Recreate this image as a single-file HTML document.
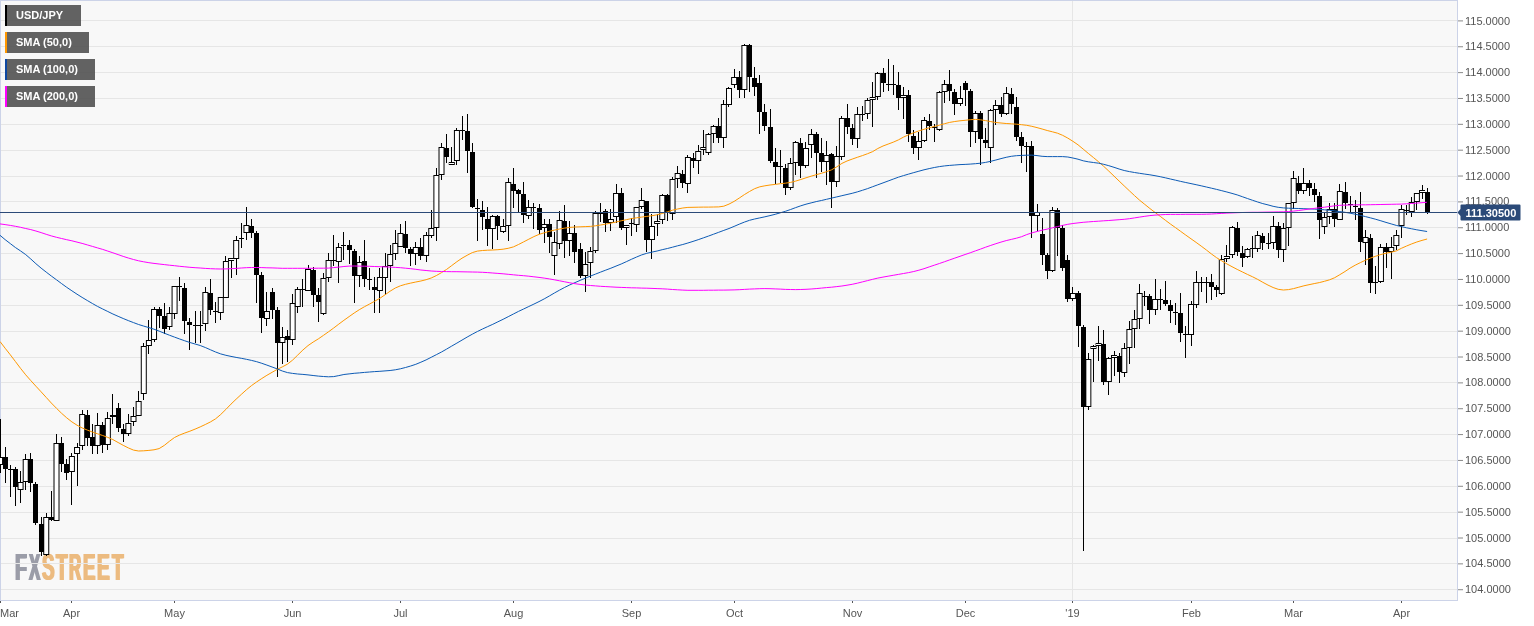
<!DOCTYPE html>
<html lang="en"><head><meta charset="utf-8"><title>USD/JPY</title>
<style>
html,body{margin:0;padding:0;background:#fff;}
body{width:1534px;height:626px;overflow:hidden;position:relative;font-family:"Liberation Sans",Arial,sans-serif;}
svg{position:absolute;left:0;top:0;display:block}
.ax{font-size:11px;fill:#555;}
.lg{font-size:11px;font-weight:bold;fill:#fff;}
#bg{position:absolute;left:0;top:0;width:1458px;height:601px;background:#f8f8f8;}
#wm span{position:absolute;font-weight:bold;font-size:36.8px;line-height:1;transform-origin:0 0;white-space:pre;}
</style></head><body>
<div id="bg"></div>
<div id="wm"><span style="left:14.98px;top:550.35px;transform:scaleX(0.5326);color:#9b9da8;text-shadow:1.41px 0 0 #9b9da8,-1.41px 0 0 #9b9da8">F</span><span style="left:28.88px;top:550.35px;transform:scaleX(0.4586);color:#9b9da8;text-shadow:1.64px 0 0 #9b9da8,-1.64px 0 0 #9b9da8">X</span><span style="left:41.69px;top:550.35px;transform:scaleX(0.5118);color:#ecbb80;text-shadow:1.47px 0 0 #ecbb80,-1.47px 0 0 #ecbb80">S</span><span style="left:55.76px;top:550.35px;transform:scaleX(0.5158);color:#ecbb80;text-shadow:1.45px 0 0 #ecbb80,-1.45px 0 0 #ecbb80">T</span><span style="left:68.96px;top:550.35px;transform:scaleX(0.4615);color:#ecbb80;text-shadow:1.63px 0 0 #ecbb80,-1.63px 0 0 #ecbb80">R</span><span style="left:83.35px;top:550.35px;transform:scaleX(0.5047);color:#ecbb80;text-shadow:1.49px 0 0 #ecbb80,-1.49px 0 0 #ecbb80">E</span><span style="left:97.21px;top:550.35px;transform:scaleX(0.5192);color:#ecbb80;text-shadow:1.44px 0 0 #ecbb80,-1.44px 0 0 #ecbb80">E</span><span style="left:112.46px;top:550.35px;transform:scaleX(0.5158);color:#ecbb80;text-shadow:1.45px 0 0 #ecbb80,-1.45px 0 0 #ecbb80">T</span></div>
<svg width="1534" height="626" viewBox="0 0 1534 626">
<g fill="#e6e6e6" shape-rendering="crispEdges"><rect x="1" y="20" width="1456" height="1"/><rect x="1" y="46" width="1456" height="1"/><rect x="1" y="72" width="1456" height="1"/><rect x="1" y="98" width="1456" height="1"/><rect x="1" y="124" width="1456" height="1"/><rect x="1" y="150" width="1456" height="1"/><rect x="1" y="176" width="1456" height="1"/><rect x="1" y="201" width="1456" height="1"/><rect x="1" y="227" width="1456" height="1"/><rect x="1" y="253" width="1456" height="1"/><rect x="1" y="279" width="1456" height="1"/><rect x="1" y="305" width="1456" height="1"/><rect x="1" y="331" width="1456" height="1"/><rect x="1" y="357" width="1456" height="1"/><rect x="1" y="382" width="1456" height="1"/><rect x="1" y="408" width="1456" height="1"/><rect x="1" y="434" width="1456" height="1"/><rect x="1" y="460" width="1456" height="1"/><rect x="1" y="486" width="1456" height="1"/><rect x="1" y="512" width="1456" height="1"/><rect x="1" y="538" width="1456" height="1"/><rect x="1" y="563" width="1456" height="1"/><rect x="1" y="589" width="1456" height="1"/><rect x="1072" y="1" width="1" height="599"/></g>
<g fill="#ccd3e8" shape-rendering="crispEdges"><rect x="0" y="0" width="1458" height="1"/><rect x="0" y="0" width="1" height="601"/><rect x="1457" y="0" width="1" height="601"/><rect x="0" y="600" width="1458" height="1"/></g>
<g fill="#000" shape-rendering="crispEdges"><rect x="0" y="419" width="1" height="54"/><rect x="5" y="447" width="1" height="36"/><rect x="10" y="465" width="1" height="32"/><rect x="15" y="467" width="1" height="39"/><rect x="20" y="471" width="1" height="32"/><rect x="25" y="454" width="1" height="36"/><rect x="30" y="453" width="1" height="39"/><rect x="35" y="482" width="1" height="43"/><rect x="41" y="517" width="1" height="39"/><rect x="46" y="513" width="1" height="43"/><rect x="51" y="491" width="1" height="30"/><rect x="56" y="434" width="1" height="87"/><rect x="61" y="437" width="1" height="35"/><rect x="66" y="459" width="1" height="21"/><rect x="71" y="453" width="1" height="52"/><rect x="77" y="443" width="1" height="43"/><rect x="82" y="410" width="1" height="40"/><rect x="87" y="410" width="1" height="36"/><rect x="92" y="424" width="1" height="30"/><rect x="97" y="413" width="1" height="41"/><rect x="102" y="422" width="1" height="31"/><rect x="107" y="412" width="1" height="38"/><rect x="112" y="394" width="1" height="30"/><rect x="118" y="403" width="1" height="29"/><rect x="123" y="424" width="1" height="18"/><rect x="128" y="414" width="1" height="22"/><rect x="133" y="407" width="1" height="19"/><rect x="138" y="391" width="1" height="25"/><rect x="143" y="343" width="1" height="57"/><rect x="148" y="320" width="1" height="34"/><rect x="154" y="307" width="1" height="35"/><rect x="159" y="307" width="1" height="21"/><rect x="164" y="303" width="1" height="31"/><rect x="169" y="307" width="1" height="23"/><rect x="174" y="286" width="1" height="33"/><rect x="179" y="277" width="1" height="24"/><rect x="184" y="283" width="1" height="51"/><rect x="189" y="318" width="1" height="32"/><rect x="195" y="311" width="1" height="32"/><rect x="200" y="311" width="1" height="32"/><rect x="205" y="287" width="1" height="44"/><rect x="210" y="279" width="1" height="36"/><rect x="215" y="302" width="1" height="21"/><rect x="220" y="297" width="1" height="23"/><rect x="225" y="256" width="1" height="42"/><rect x="231" y="258" width="1" height="20"/><rect x="236" y="236" width="1" height="39"/><rect x="241" y="223" width="1" height="25"/><rect x="246" y="207" width="1" height="33"/><rect x="251" y="219" width="1" height="19"/><rect x="256" y="231" width="1" height="72"/><rect x="261" y="272" width="1" height="61"/><rect x="266" y="292" width="1" height="34"/><rect x="272" y="288" width="1" height="31"/><rect x="277" y="307" width="1" height="70"/><rect x="282" y="327" width="1" height="37"/><rect x="287" y="330" width="1" height="32"/><rect x="292" y="294" width="1" height="51"/><rect x="297" y="287" width="1" height="26"/><rect x="302" y="279" width="1" height="28"/><rect x="308" y="265" width="1" height="26"/><rect x="313" y="267" width="1" height="40"/><rect x="318" y="288" width="1" height="34"/><rect x="323" y="273" width="1" height="42"/><rect x="328" y="253" width="1" height="29"/><rect x="333" y="235" width="1" height="31"/><rect x="338" y="243" width="1" height="40"/><rect x="343" y="232" width="1" height="28"/><rect x="349" y="240" width="1" height="24"/><rect x="354" y="249" width="1" height="54"/><rect x="359" y="256" width="1" height="31"/><rect x="364" y="240" width="1" height="47"/><rect x="369" y="268" width="1" height="22"/><rect x="374" y="277" width="1" height="36"/><rect x="379" y="268" width="1" height="45"/><rect x="385" y="253" width="1" height="42"/><rect x="390" y="245" width="1" height="37"/><rect x="395" y="230" width="1" height="30"/><rect x="400" y="224" width="1" height="23"/><rect x="405" y="221" width="1" height="32"/><rect x="410" y="247" width="1" height="19"/><rect x="415" y="242" width="1" height="23"/><rect x="420" y="238" width="1" height="22"/><rect x="426" y="232" width="1" height="30"/><rect x="431" y="210" width="1" height="28"/><rect x="436" y="168" width="1" height="73"/><rect x="441" y="143" width="1" height="37"/><rect x="446" y="134" width="1" height="29"/><rect x="451" y="147" width="1" height="18"/><rect x="456" y="128" width="1" height="37"/><rect x="462" y="116" width="1" height="24"/><rect x="467" y="114" width="1" height="59"/><rect x="472" y="143" width="1" height="65"/><rect x="477" y="199" width="1" height="42"/><rect x="482" y="201" width="1" height="29"/><rect x="487" y="207" width="1" height="39"/><rect x="492" y="215" width="1" height="34"/><rect x="497" y="215" width="1" height="25"/><rect x="503" y="219" width="1" height="14"/><rect x="508" y="178" width="1" height="63"/><rect x="513" y="168" width="1" height="40"/><rect x="518" y="189" width="1" height="23"/><rect x="523" y="182" width="1" height="41"/><rect x="528" y="200" width="1" height="19"/><rect x="533" y="203" width="1" height="26"/><rect x="539" y="204" width="1" height="30"/><rect x="544" y="219" width="1" height="24"/><rect x="549" y="219" width="1" height="34"/><rect x="554" y="232" width="1" height="43"/><rect x="559" y="211" width="1" height="38"/><rect x="564" y="205" width="1" height="53"/><rect x="569" y="221" width="1" height="35"/><rect x="574" y="225" width="1" height="38"/><rect x="580" y="243" width="1" height="35"/><rect x="585" y="252" width="1" height="40"/><rect x="590" y="247" width="1" height="31"/><rect x="595" y="211" width="1" height="42"/><rect x="600" y="203" width="1" height="19"/><rect x="605" y="209" width="1" height="23"/><rect x="610" y="209" width="1" height="22"/><rect x="616" y="184" width="1" height="39"/><rect x="621" y="188" width="1" height="42"/><rect x="626" y="225" width="1" height="20"/><rect x="631" y="218" width="1" height="18"/><rect x="636" y="207" width="1" height="25"/><rect x="641" y="188" width="1" height="21"/><rect x="646" y="201" width="1" height="51"/><rect x="651" y="214" width="1" height="45"/><rect x="657" y="214" width="1" height="22"/><rect x="662" y="194" width="1" height="30"/><rect x="667" y="194" width="1" height="27"/><rect x="672" y="177" width="1" height="43"/><rect x="677" y="166" width="1" height="22"/><rect x="682" y="170" width="1" height="18"/><rect x="687" y="155" width="1" height="38"/><rect x="693" y="153" width="1" height="15"/><rect x="698" y="145" width="1" height="29"/><rect x="703" y="130" width="1" height="25"/><rect x="708" y="133" width="1" height="22"/><rect x="713" y="125" width="1" height="18"/><rect x="718" y="118" width="1" height="25"/><rect x="723" y="100" width="1" height="48"/><rect x="728" y="87" width="1" height="20"/><rect x="734" y="69" width="1" height="19"/><rect x="739" y="71" width="1" height="27"/><rect x="744" y="44" width="1" height="54"/><rect x="749" y="44" width="1" height="48"/><rect x="754" y="67" width="1" height="29"/><rect x="759" y="75" width="1" height="59"/><rect x="764" y="104" width="1" height="27"/><rect x="770" y="109" width="1" height="54"/><rect x="775" y="148" width="1" height="36"/><rect x="780" y="150" width="1" height="33"/><rect x="785" y="164" width="1" height="31"/><rect x="790" y="158" width="1" height="32"/><rect x="795" y="141" width="1" height="34"/><rect x="800" y="138" width="1" height="40"/><rect x="805" y="142" width="1" height="26"/><rect x="811" y="129" width="1" height="29"/><rect x="816" y="132" width="1" height="46"/><rect x="821" y="138" width="1" height="34"/><rect x="826" y="141" width="1" height="44"/><rect x="831" y="153" width="1" height="55"/><rect x="836" y="146" width="1" height="41"/><rect x="841" y="116" width="1" height="44"/><rect x="847" y="104" width="1" height="30"/><rect x="852" y="124" width="1" height="21"/><rect x="857" y="107" width="1" height="41"/><rect x="862" y="106" width="1" height="15"/><rect x="867" y="98" width="1" height="21"/><rect x="872" y="82" width="1" height="45"/><rect x="877" y="72" width="1" height="28"/><rect x="883" y="68" width="1" height="24"/><rect x="888" y="59" width="1" height="32"/><rect x="893" y="65" width="1" height="30"/><rect x="898" y="72" width="1" height="38"/><rect x="903" y="87" width="1" height="32"/><rect x="908" y="90" width="1" height="52"/><rect x="913" y="130" width="1" height="24"/><rect x="918" y="132" width="1" height="28"/><rect x="924" y="117" width="1" height="25"/><rect x="929" y="114" width="1" height="16"/><rect x="934" y="124" width="1" height="18"/><rect x="939" y="91" width="1" height="40"/><rect x="944" y="80" width="1" height="23"/><rect x="949" y="70" width="1" height="31"/><rect x="954" y="89" width="1" height="26"/><rect x="960" y="86" width="1" height="20"/><rect x="965" y="81" width="1" height="25"/><rect x="970" y="89" width="1" height="58"/><rect x="975" y="111" width="1" height="32"/><rect x="980" y="111" width="1" height="54"/><rect x="985" y="128" width="1" height="20"/><rect x="990" y="109" width="1" height="54"/><rect x="995" y="100" width="1" height="25"/><rect x="1001" y="97" width="1" height="20"/><rect x="1006" y="87" width="1" height="28"/><rect x="1011" y="88" width="1" height="26"/><rect x="1016" y="97" width="1" height="44"/><rect x="1021" y="132" width="1" height="31"/><rect x="1026" y="142" width="1" height="30"/><rect x="1031" y="141" width="1" height="97"/><rect x="1037" y="204" width="1" height="27"/><rect x="1042" y="218" width="1" height="47"/><rect x="1047" y="253" width="1" height="26"/><rect x="1052" y="207" width="1" height="65"/><rect x="1057" y="208" width="1" height="48"/><rect x="1062" y="225" width="1" height="46"/><rect x="1067" y="255" width="1" height="47"/><rect x="1072" y="287" width="1" height="14"/><rect x="1078" y="291" width="1" height="56"/><rect x="1083" y="325" width="1" height="226"/><rect x="1088" y="353" width="1" height="57"/><rect x="1093" y="345" width="1" height="37"/><rect x="1098" y="326" width="1" height="35"/><rect x="1103" y="330" width="1" height="55"/><rect x="1108" y="357" width="1" height="38"/><rect x="1114" y="351" width="1" height="25"/><rect x="1119" y="353" width="1" height="30"/><rect x="1124" y="343" width="1" height="34"/><rect x="1129" y="321" width="1" height="43"/><rect x="1134" y="310" width="1" height="38"/><rect x="1139" y="284" width="1" height="45"/><rect x="1144" y="291" width="1" height="15"/><rect x="1149" y="294" width="1" height="30"/><rect x="1155" y="279" width="1" height="36"/><rect x="1160" y="289" width="1" height="21"/><rect x="1165" y="281" width="1" height="25"/><rect x="1170" y="300" width="1" height="23"/><rect x="1175" y="303" width="1" height="22"/><rect x="1180" y="293" width="1" height="49"/><rect x="1185" y="326" width="1" height="32"/><rect x="1191" y="301" width="1" height="45"/><rect x="1196" y="271" width="1" height="37"/><rect x="1201" y="277" width="1" height="15"/><rect x="1206" y="277" width="1" height="26"/><rect x="1211" y="274" width="1" height="26"/><rect x="1216" y="285" width="1" height="12"/><rect x="1221" y="255" width="1" height="40"/><rect x="1226" y="245" width="1" height="17"/><rect x="1232" y="226" width="1" height="32"/><rect x="1237" y="222" width="1" height="34"/><rect x="1242" y="246" width="1" height="21"/><rect x="1247" y="248" width="1" height="10"/><rect x="1252" y="236" width="1" height="22"/><rect x="1257" y="231" width="1" height="21"/><rect x="1262" y="233" width="1" height="17"/><rect x="1268" y="233" width="1" height="16"/><rect x="1273" y="216" width="1" height="33"/><rect x="1278" y="222" width="1" height="36"/><rect x="1283" y="223" width="1" height="39"/><rect x="1288" y="203" width="1" height="43"/><rect x="1293" y="171" width="1" height="38"/><rect x="1298" y="176" width="1" height="18"/><rect x="1303" y="168" width="1" height="26"/><rect x="1309" y="180" width="1" height="16"/><rect x="1314" y="183" width="1" height="19"/><rect x="1319" y="192" width="1" height="47"/><rect x="1324" y="212" width="1" height="22"/><rect x="1329" y="203" width="1" height="21"/><rect x="1334" y="203" width="1" height="24"/><rect x="1339" y="184" width="1" height="36"/><rect x="1345" y="182" width="1" height="27"/><rect x="1350" y="196" width="1" height="16"/><rect x="1355" y="200" width="1" height="20"/><rect x="1360" y="192" width="1" height="60"/><rect x="1365" y="230" width="1" height="35"/><rect x="1370" y="234" width="1" height="59"/><rect x="1375" y="266" width="1" height="28"/><rect x="1380" y="244" width="1" height="39"/><rect x="1386" y="243" width="1" height="25"/><rect x="1391" y="237" width="1" height="42"/><rect x="1396" y="230" width="1" height="20"/><rect x="1401" y="205" width="1" height="33"/><rect x="1406" y="205" width="1" height="10"/><rect x="1411" y="197" width="1" height="20"/><rect x="1416" y="193" width="1" height="17"/><rect x="1422" y="185" width="1" height="14"/><rect x="1427" y="188" width="1" height="26"/></g>
<g fill="#fff" stroke="#000" stroke-width="1"><rect x="-2.46" y="457.5" width="5" height="7"/><rect x="18.07" y="482.5" width="5" height="7"/><rect x="23.21" y="459.5" width="5" height="22"/><rect x="43.74" y="517.5" width="5" height="37"/><rect x="54.01" y="443.5" width="5" height="77"/><rect x="69.41" y="456.5" width="5" height="15"/><rect x="74.54" y="447.5" width="5" height="6"/><rect x="79.68" y="414.5" width="5" height="31"/><rect x="95.08" y="425.5" width="5" height="20"/><rect x="105.34" y="418.5" width="5" height="26"/><rect x="110.48" y="415.5" width="5" height="1"/><rect x="125.88" y="423.5" width="5" height="10"/><rect x="131.01" y="416.5" width="5" height="5"/><rect x="136.14" y="401.5" width="5" height="14"/><rect x="141.28" y="346.5" width="5" height="47"/><rect x="146.41" y="340.5" width="5" height="5"/><rect x="151.54" y="309.5" width="5" height="30"/><rect x="166.95" y="313.5" width="5" height="13"/><rect x="172.08" y="286.5" width="5" height="27"/><rect x="202.88" y="292.5" width="5" height="31"/><rect x="218.28" y="297.5" width="5" height="15"/><rect x="223.41" y="261.5" width="5" height="36"/><rect x="228.55" y="258.5" width="5" height="2"/><rect x="233.68" y="240.5" width="5" height="18"/><rect x="243.95" y="225.5" width="5" height="7"/><rect x="264.48" y="311.5" width="5" height="7"/><rect x="279.88" y="337.5" width="5" height="5"/><rect x="290.15" y="303.5" width="5" height="36"/><rect x="295.28" y="289.5" width="5" height="17"/><rect x="305.55" y="269.5" width="5" height="21"/><rect x="320.95" y="278.5" width="5" height="35"/><rect x="326.08" y="260.5" width="5" height="17"/><rect x="336.35" y="247.5" width="5" height="14"/><rect x="356.88" y="262.5" width="5" height="13"/><rect x="377.42" y="277.5" width="5" height="13"/><rect x="382.55" y="266.5" width="5" height="11"/><rect x="387.69" y="254.5" width="5" height="11"/><rect x="392.82" y="243.5" width="5" height="10"/><rect x="397.95" y="233.5" width="5" height="13"/><rect x="413.35" y="247.5" width="5" height="6"/><rect x="423.62" y="235.5" width="5" height="20"/><rect x="428.75" y="228.5" width="5" height="7"/><rect x="433.89" y="175.5" width="5" height="52"/><rect x="439.02" y="147.5" width="5" height="27"/><rect x="449.29" y="162.5" width="5" height="2"/><rect x="454.42" y="130.5" width="5" height="30"/><rect x="490.36" y="216.5" width="5" height="12"/><rect x="500.62" y="226.5" width="5" height="5"/><rect x="505.76" y="182.5" width="5" height="43"/><rect x="526.29" y="207.5" width="5" height="8"/><rect x="541.69" y="224.5" width="5" height="3"/><rect x="551.96" y="242.5" width="5" height="13"/><rect x="557.09" y="220.5" width="5" height="23"/><rect x="567.36" y="233.5" width="5" height="7"/><rect x="582.76" y="264.5" width="5" height="11"/><rect x="587.89" y="251.5" width="5" height="11"/><rect x="593.03" y="213.5" width="5" height="37"/><rect x="608.43" y="219.5" width="5" height="3"/><rect x="613.56" y="193.5" width="5" height="23"/><rect x="623.83" y="225.5" width="5" height="2"/><rect x="634.09" y="207.5" width="5" height="17"/><rect x="639.23" y="200.5" width="5" height="6"/><rect x="649.49" y="226.5" width="5" height="13"/><rect x="654.63" y="221.5" width="5" height="2"/><rect x="659.76" y="195.5" width="5" height="24"/><rect x="670.03" y="179.5" width="5" height="34"/><rect x="675.16" y="173.5" width="5" height="5"/><rect x="685.43" y="157.5" width="5" height="26"/><rect x="695.70" y="151.5" width="5" height="9"/><rect x="700.83" y="147.5" width="5" height="2"/><rect x="705.96" y="134.5" width="5" height="18"/><rect x="711.10" y="126.5" width="5" height="7"/><rect x="721.36" y="104.5" width="5" height="33"/><rect x="726.50" y="88.5" width="5" height="16"/><rect x="731.63" y="77.5" width="5" height="7"/><rect x="741.90" y="45.5" width="5" height="44"/><rect x="788.10" y="163.5" width="5" height="24"/><rect x="793.23" y="142.5" width="5" height="20"/><rect x="803.50" y="148.5" width="5" height="17"/><rect x="808.63" y="134.5" width="5" height="10"/><rect x="824.03" y="155.5" width="5" height="6"/><rect x="834.30" y="156.5" width="5" height="25"/><rect x="839.43" y="118.5" width="5" height="38"/><rect x="854.83" y="114.5" width="5" height="24"/><rect x="865.10" y="100.5" width="5" height="13"/><rect x="870.23" y="97.5" width="5" height="2"/><rect x="875.37" y="73.5" width="5" height="23"/><rect x="901.04" y="95.5" width="5" height="2"/><rect x="916.44" y="141.5" width="5" height="6"/><rect x="921.57" y="120.5" width="5" height="20"/><rect x="936.97" y="92.5" width="5" height="37"/><rect x="942.10" y="84.5" width="5" height="7"/><rect x="957.50" y="98.5" width="5" height="5"/><rect x="972.90" y="113.5" width="5" height="18"/><rect x="988.31" y="110.5" width="5" height="37"/><rect x="993.44" y="105.5" width="5" height="4"/><rect x="1003.71" y="93.5" width="5" height="20"/><rect x="1034.51" y="212.5" width="5" height="3"/><rect x="1049.91" y="210.5" width="5" height="60"/><rect x="1070.44" y="293.5" width="5" height="5"/><rect x="1085.84" y="359.5" width="5" height="47"/><rect x="1090.98" y="346.5" width="5" height="2"/><rect x="1096.11" y="343.5" width="5" height="2"/><rect x="1106.38" y="358.5" width="5" height="23"/><rect x="1111.51" y="355.5" width="5" height="2"/><rect x="1121.78" y="348.5" width="5" height="24"/><rect x="1126.91" y="329.5" width="5" height="18"/><rect x="1132.04" y="319.5" width="5" height="9"/><rect x="1137.18" y="293.5" width="5" height="25"/><rect x="1152.58" y="299.5" width="5" height="10"/><rect x="1188.51" y="304.5" width="5" height="30"/><rect x="1193.65" y="282.5" width="5" height="22"/><rect x="1219.31" y="259.5" width="5" height="34"/><rect x="1224.45" y="256.5" width="5" height="2"/><rect x="1229.58" y="227.5" width="5" height="27"/><rect x="1244.98" y="249.5" width="5" height="7"/><rect x="1255.25" y="235.5" width="5" height="13"/><rect x="1270.65" y="226.5" width="5" height="16"/><rect x="1280.91" y="228.5" width="5" height="21"/><rect x="1286.05" y="203.5" width="5" height="24"/><rect x="1291.18" y="178.5" width="5" height="24"/><rect x="1301.45" y="183.5" width="5" height="7"/><rect x="1321.98" y="217.5" width="5" height="9"/><rect x="1327.12" y="209.5" width="5" height="7"/><rect x="1337.38" y="191.5" width="5" height="28"/><rect x="1363.05" y="237.5" width="5" height="5"/><rect x="1378.45" y="247.5" width="5" height="34"/><rect x="1388.72" y="247.5" width="5" height="4"/><rect x="1393.85" y="235.5" width="5" height="10"/><rect x="1398.99" y="209.5" width="5" height="16"/><rect x="1409.25" y="202.5" width="5" height="9"/><rect x="1414.39" y="193.5" width="5" height="8"/><rect x="1419.52" y="190.5" width="5" height="2"/></g>
<g fill="#000" shape-rendering="crispEdges"><rect x="3" y="457" width="5" height="12"/><rect x="8" y="469" width="5" height="1"/><rect x="13" y="469" width="5" height="18"/><rect x="28" y="459" width="5" height="24"/><rect x="33" y="484" width="5" height="39"/><rect x="39" y="524" width="5" height="28"/><rect x="49" y="517" width="5" height="3"/><rect x="59" y="443" width="5" height="21"/><rect x="64" y="464" width="5" height="9"/><rect x="85" y="415" width="5" height="23"/><rect x="90" y="437" width="5" height="9"/><rect x="100" y="425" width="5" height="20"/><rect x="116" y="408" width="5" height="20"/><rect x="121" y="429" width="5" height="5"/><rect x="157" y="309" width="5" height="7"/><rect x="162" y="316" width="5" height="13"/><rect x="177" y="286" width="5" height="1"/><rect x="182" y="288" width="5" height="33"/><rect x="187" y="322" width="5" height="3"/><rect x="193" y="325" width="5" height="1"/><rect x="198" y="325" width="5" height="1"/><rect x="208" y="293" width="5" height="17"/><rect x="213" y="311" width="5" height="1"/><rect x="239" y="238" width="5" height="1"/><rect x="249" y="226" width="5" height="7"/><rect x="254" y="233" width="5" height="42"/><rect x="259" y="275" width="5" height="43"/><rect x="270" y="292" width="5" height="18"/><rect x="275" y="310" width="5" height="33"/><rect x="285" y="336" width="5" height="4"/><rect x="300" y="289" width="5" height="1"/><rect x="311" y="270" width="5" height="25"/><rect x="316" y="295" width="5" height="7"/><rect x="331" y="260" width="5" height="1"/><rect x="341" y="245" width="5" height="1"/><rect x="347" y="245" width="5" height="5"/><rect x="352" y="251" width="5" height="25"/><rect x="362" y="261" width="5" height="18"/><rect x="367" y="279" width="5" height="1"/><rect x="372" y="287" width="5" height="3"/><rect x="403" y="234" width="5" height="14"/><rect x="408" y="249" width="5" height="5"/><rect x="418" y="247" width="5" height="9"/><rect x="444" y="148" width="5" height="9"/><rect x="460" y="130" width="5" height="1"/><rect x="465" y="131" width="5" height="20"/><rect x="470" y="152" width="5" height="55"/><rect x="475" y="208" width="5" height="1"/><rect x="480" y="210" width="5" height="7"/><rect x="485" y="219" width="5" height="10"/><rect x="495" y="216" width="5" height="10"/><rect x="511" y="184" width="5" height="7"/><rect x="516" y="190" width="5" height="4"/><rect x="521" y="194" width="5" height="21"/><rect x="531" y="207" width="5" height="1"/><rect x="537" y="208" width="5" height="22"/><rect x="547" y="224" width="5" height="13"/><rect x="562" y="221" width="5" height="20"/><rect x="572" y="233" width="5" height="19"/><rect x="578" y="249" width="5" height="27"/><rect x="598" y="213" width="5" height="1"/><rect x="603" y="211" width="5" height="12"/><rect x="619" y="193" width="5" height="35"/><rect x="629" y="223" width="5" height="1"/><rect x="644" y="201" width="5" height="39"/><rect x="665" y="195" width="5" height="17"/><rect x="680" y="174" width="5" height="9"/><rect x="691" y="158" width="5" height="3"/><rect x="716" y="126" width="5" height="12"/><rect x="737" y="77" width="5" height="13"/><rect x="747" y="45" width="5" height="32"/><rect x="752" y="78" width="5" height="9"/><rect x="757" y="83" width="5" height="29"/><rect x="762" y="112" width="5" height="14"/><rect x="768" y="127" width="5" height="34"/><rect x="773" y="162" width="5" height="5"/><rect x="778" y="166" width="5" height="1"/><rect x="783" y="168" width="5" height="20"/><rect x="798" y="143" width="5" height="23"/><rect x="814" y="134" width="5" height="19"/><rect x="819" y="153" width="5" height="9"/><rect x="829" y="154" width="5" height="28"/><rect x="845" y="118" width="5" height="9"/><rect x="850" y="128" width="5" height="11"/><rect x="860" y="114" width="5" height="1"/><rect x="881" y="73" width="5" height="10"/><rect x="886" y="84" width="5" height="1"/><rect x="891" y="84" width="5" height="1"/><rect x="896" y="85" width="5" height="13"/><rect x="906" y="95" width="5" height="39"/><rect x="911" y="136" width="5" height="12"/><rect x="927" y="121" width="5" height="5"/><rect x="932" y="127" width="5" height="1"/><rect x="947" y="84" width="5" height="7"/><rect x="952" y="92" width="5" height="12"/><rect x="963" y="83" width="5" height="7"/><rect x="968" y="91" width="5" height="41"/><rect x="978" y="113" width="5" height="26"/><rect x="983" y="140" width="5" height="3"/><rect x="999" y="105" width="5" height="9"/><rect x="1009" y="94" width="5" height="10"/><rect x="1014" y="107" width="5" height="30"/><rect x="1019" y="137" width="5" height="9"/><rect x="1024" y="146" width="5" height="1"/><rect x="1029" y="146" width="5" height="70"/><rect x="1040" y="234" width="5" height="21"/><rect x="1045" y="255" width="5" height="16"/><rect x="1055" y="210" width="5" height="18"/><rect x="1060" y="228" width="5" height="40"/><rect x="1065" y="260" width="5" height="39"/><rect x="1076" y="293" width="5" height="33"/><rect x="1081" y="327" width="5" height="80"/><rect x="1101" y="344" width="5" height="38"/><rect x="1117" y="356" width="5" height="16"/><rect x="1142" y="296" width="5" height="1"/><rect x="1147" y="296" width="5" height="14"/><rect x="1158" y="299" width="5" height="1"/><rect x="1163" y="300" width="5" height="4"/><rect x="1168" y="305" width="5" height="6"/><rect x="1173" y="312" width="5" height="1"/><rect x="1178" y="313" width="5" height="20"/><rect x="1183" y="334" width="5" height="1"/><rect x="1199" y="282" width="5" height="1"/><rect x="1204" y="282" width="5" height="1"/><rect x="1209" y="282" width="5" height="5"/><rect x="1214" y="287" width="5" height="3"/><rect x="1235" y="228" width="5" height="24"/><rect x="1240" y="253" width="5" height="5"/><rect x="1250" y="248" width="5" height="1"/><rect x="1260" y="236" width="5" height="7"/><rect x="1266" y="243" width="5" height="1"/><rect x="1276" y="226" width="5" height="24"/><rect x="1296" y="183" width="5" height="8"/><rect x="1307" y="183" width="5" height="5"/><rect x="1312" y="189" width="5" height="6"/><rect x="1317" y="196" width="5" height="24"/><rect x="1332" y="209" width="5" height="10"/><rect x="1343" y="192" width="5" height="11"/><rect x="1348" y="204" width="5" height="1"/><rect x="1353" y="206" width="5" height="1"/><rect x="1358" y="208" width="5" height="34"/><rect x="1368" y="238" width="5" height="45"/><rect x="1373" y="282" width="5" height="1"/><rect x="1384" y="247" width="5" height="5"/><rect x="1404" y="210" width="5" height="1"/><rect x="1425" y="192" width="5" height="20"/></g>
<polyline points="0.0,341.5 5.1,348.2 10.3,354.8 15.4,361.5 20.5,368.3 25.7,374.8 30.8,380.6 35.9,386.2 41.1,391.8 46.2,397.4 51.3,403.0 56.5,408.3 61.6,413.3 66.7,417.8 71.9,421.9 77.0,425.2 82.1,427.9 87.3,430.1 92.4,432.0 97.5,433.8 102.7,435.5 107.8,437.4 112.9,439.6 118.1,442.5 123.2,445.3 128.3,447.9 133.5,450.1 138.6,451.0 143.7,450.8 148.9,450.4 154.0,449.8 159.1,448.6 164.3,445.4 169.4,441.3 174.5,437.5 179.7,435.0 184.8,433.0 189.9,431.2 195.1,429.1 200.2,426.9 205.3,424.5 210.5,421.9 215.6,418.8 220.7,414.5 225.9,409.4 231.0,404.1 236.1,399.2 241.3,394.4 246.4,389.8 251.5,385.6 256.7,381.9 261.8,378.5 266.9,375.3 272.1,372.3 277.2,369.4 282.3,366.9 287.5,364.1 292.6,360.1 297.7,355.1 302.9,350.0 308.0,345.6 313.1,342.1 318.3,338.9 323.4,335.4 328.5,331.8 333.7,328.0 338.8,324.1 343.9,320.3 349.1,316.6 354.2,313.0 359.3,309.7 364.5,306.7 369.6,304.0 374.7,301.2 379.9,298.3 385.0,294.8 390.1,291.2 395.3,288.0 400.4,285.8 405.5,284.3 410.7,283.1 415.8,282.0 420.9,281.0 426.1,279.7 431.2,278.0 436.3,275.6 441.5,272.6 446.6,269.4 451.7,265.6 456.9,261.7 462.0,258.2 467.1,255.3 472.3,252.6 477.4,251.1 482.5,250.5 487.7,250.2 492.8,250.0 497.9,249.7 503.1,249.2 508.2,248.3 513.4,246.9 518.5,244.5 523.6,241.9 528.8,239.2 533.9,236.6 539.0,234.4 544.2,232.8 549.3,231.3 554.4,230.1 559.6,229.0 564.7,228.1 569.8,227.4 575.0,227.0 580.1,226.8 585.2,226.6 590.4,226.4 595.5,225.8 600.6,225.0 605.8,224.1 610.9,223.1 616.0,222.0 621.2,220.8 626.3,219.7 631.4,218.6 636.6,217.8 641.7,217.1 646.8,216.4 652.0,215.7 657.1,214.8 662.2,213.5 667.4,211.8 672.5,210.2 677.6,209.0 682.8,208.0 687.9,207.4 693.0,207.3 698.2,207.2 703.3,207.1 708.4,207.1 713.6,207.0 718.7,206.9 723.8,206.2 729.0,204.1 734.1,201.4 739.2,198.1 744.4,194.6 749.5,191.5 754.6,188.7 759.8,186.8 764.9,185.8 770.0,185.0 775.2,184.4 780.3,183.7 785.4,183.2 790.6,182.4 795.7,181.1 800.8,179.5 806.0,177.8 811.1,176.2 816.2,174.7 821.4,173.3 826.5,171.7 831.6,169.8 836.8,166.8 841.9,163.4 847.0,161.0 852.2,159.1 857.3,157.3 862.4,155.6 867.6,153.7 872.7,151.6 877.8,148.5 883.0,146.0 888.1,144.1 893.2,142.2 898.4,139.9 903.5,137.1 908.6,134.8 913.8,132.7 918.9,130.9 924.0,129.3 929.2,127.8 934.3,126.4 939.4,125.1 944.6,123.7 949.7,122.4 954.8,121.5 960.0,120.8 965.1,120.3 970.2,119.7 975.4,119.4 980.5,119.8 985.6,120.6 990.8,121.6 995.9,122.5 1001.0,123.0 1006.2,123.5 1011.3,123.8 1016.4,124.2 1021.6,124.7 1026.7,125.3 1031.8,126.3 1037.0,127.6 1042.1,129.0 1047.2,130.5 1052.4,131.8 1057.5,133.2 1062.6,135.3 1067.8,138.1 1072.9,141.3 1078.0,144.8 1083.2,149.1 1088.3,153.4 1093.4,157.5 1098.6,161.8 1103.7,166.3 1108.8,171.1 1114.0,176.1 1119.1,181.0 1124.2,185.9 1129.4,190.8 1134.5,195.6 1139.6,200.2 1144.8,204.4 1149.9,208.5 1155.0,212.4 1160.2,216.3 1165.3,220.2 1170.4,224.0 1175.6,227.7 1180.7,231.4 1185.8,235.1 1191.0,238.8 1196.1,242.4 1201.2,246.1 1206.4,250.0 1211.5,254.0 1216.6,257.7 1221.8,260.9 1226.9,263.9 1232.0,266.7 1237.2,269.4 1242.3,271.9 1247.4,274.4 1252.6,276.8 1257.7,279.4 1262.8,282.3 1268.0,285.1 1273.1,287.5 1278.2,289.3 1283.4,290.0 1288.5,289.6 1293.6,288.6 1298.8,287.2 1303.9,285.8 1309.0,284.7 1314.2,283.6 1319.3,282.6 1324.4,281.3 1329.6,279.8 1334.7,277.7 1339.8,274.7 1345.0,271.5 1350.1,268.1 1355.2,265.2 1360.4,262.6 1365.5,260.2 1370.6,258.0 1375.8,256.2 1380.9,254.5 1386.0,253.2 1391.2,252.2 1396.3,250.9 1401.4,248.3 1406.6,246.0 1411.7,243.9 1416.8,242.0 1422.0,240.4 1427.1,239.0" fill="none" stroke="#ff9800" stroke-width="1" stroke-linejoin="round"/>
<polyline points="0.0,235.3 5.1,239.6 10.3,243.6 15.4,247.5 20.5,250.9 25.7,254.6 30.8,259.0 35.9,263.7 41.1,268.1 46.2,272.1 51.3,276.0 56.5,279.8 61.6,283.6 66.7,287.3 71.9,290.8 77.0,294.2 82.1,297.4 87.3,300.5 92.4,303.5 97.5,306.4 102.7,309.0 107.8,311.5 112.9,314.0 118.1,316.3 123.2,318.5 128.3,320.6 133.5,322.6 138.6,324.5 143.7,326.1 148.9,327.6 154.0,329.2 159.1,331.1 164.3,333.2 169.4,335.2 174.5,337.1 179.7,339.0 184.8,340.8 189.9,342.5 195.1,344.0 200.2,345.5 205.3,347.5 210.5,349.8 215.6,352.0 220.7,353.9 225.9,355.3 231.0,356.4 236.1,357.4 241.3,358.3 246.4,359.3 251.5,360.4 256.7,361.7 261.8,363.3 266.9,365.1 272.1,367.0 277.2,368.9 282.3,371.0 287.5,372.6 292.6,373.4 297.7,374.0 302.9,374.4 308.0,374.9 313.1,375.5 318.3,376.1 323.4,376.5 328.5,376.8 333.7,376.6 338.8,375.6 343.9,374.5 349.1,373.9 354.2,373.3 359.3,372.9 364.5,372.4 369.6,372.0 374.7,371.6 379.9,371.3 385.0,370.9 390.1,370.5 395.3,369.8 400.4,368.8 405.5,367.5 410.7,366.0 415.8,364.3 420.9,362.2 426.1,359.9 431.2,357.3 436.3,354.7 441.5,352.0 446.6,349.1 451.7,346.1 456.9,343.1 462.0,340.1 467.1,337.1 472.3,334.2 477.4,331.5 482.5,329.0 487.7,326.6 492.8,324.3 497.9,321.8 503.1,319.3 508.2,316.7 513.4,314.0 518.5,311.4 523.6,309.0 528.8,306.5 533.9,304.1 539.0,301.6 544.2,298.9 549.3,296.0 554.4,293.0 559.6,290.1 564.7,287.4 569.8,284.9 575.0,282.6 580.1,280.4 585.2,278.2 590.4,276.1 595.5,274.1 600.6,272.1 605.8,270.1 610.9,268.2 616.0,266.1 621.2,264.0 626.3,261.7 631.4,259.3 636.6,257.0 641.7,254.9 646.8,253.3 652.0,252.1 657.1,251.0 662.2,249.7 667.4,248.5 672.5,247.2 677.6,245.8 682.8,244.5 687.9,243.0 693.0,241.4 698.2,239.7 703.3,237.9 708.4,236.1 713.6,234.2 718.7,232.3 723.8,230.4 729.0,228.5 734.1,226.4 739.2,224.2 744.4,222.1 749.5,220.3 754.6,219.0 759.8,217.9 764.9,216.8 770.0,215.6 775.2,214.3 780.3,212.8 785.4,211.3 790.6,209.5 795.7,207.6 800.8,205.8 806.0,204.2 811.1,202.9 816.2,201.6 821.4,200.5 826.5,199.3 831.6,198.1 836.8,196.9 841.9,195.7 847.0,194.5 852.2,193.3 857.3,191.9 862.4,190.3 867.6,188.6 872.7,186.7 877.8,184.8 883.0,182.9 888.1,181.0 893.2,179.1 898.4,177.2 903.5,175.6 908.6,174.1 913.8,172.6 918.9,171.2 924.0,169.8 929.2,168.6 934.3,167.5 939.4,166.6 944.6,165.9 949.7,165.4 954.8,165.0 960.0,164.6 965.1,164.4 970.2,164.1 975.4,163.7 980.5,163.2 985.6,162.4 990.8,161.3 995.9,160.0 1001.0,158.6 1006.2,157.3 1011.3,156.3 1016.4,155.7 1021.6,155.4 1026.7,155.2 1031.8,155.1 1037.0,155.6 1042.1,156.3 1047.2,156.6 1052.4,156.6 1057.5,156.6 1062.6,156.6 1067.8,157.0 1072.9,158.0 1078.0,159.2 1083.2,160.8 1088.3,161.8 1093.4,162.5 1098.6,163.2 1103.7,164.3 1108.8,165.7 1114.0,167.3 1119.1,169.0 1124.2,170.5 1129.4,171.6 1134.5,172.5 1139.6,173.3 1144.8,174.1 1149.9,174.8 1155.0,175.7 1160.2,176.7 1165.3,177.8 1170.4,179.0 1175.6,180.2 1180.7,181.4 1185.8,182.5 1191.0,183.6 1196.1,184.7 1201.2,185.8 1206.4,187.0 1211.5,188.2 1216.6,189.4 1221.8,190.7 1226.9,192.0 1232.0,193.4 1237.2,194.9 1242.3,196.7 1247.4,198.5 1252.6,200.3 1257.7,202.0 1262.8,203.6 1268.0,204.9 1273.1,206.3 1278.2,207.3 1283.4,207.9 1288.5,208.2 1293.6,208.4 1298.8,208.5 1303.9,208.7 1309.0,208.9 1314.2,209.1 1319.3,209.4 1324.4,209.8 1329.6,210.3 1334.7,210.9 1339.8,211.6 1345.0,212.3 1350.1,213.2 1355.2,214.2 1360.4,215.4 1365.5,216.6 1370.6,217.9 1375.8,219.3 1380.9,220.8 1386.0,222.4 1391.2,223.9 1396.3,225.4 1401.4,226.6 1406.6,227.8 1411.7,228.8 1416.8,229.8 1422.0,230.7 1427.1,231.5" fill="none" stroke="#0d5bb5" stroke-width="1" stroke-linejoin="round"/>
<polyline points="0.0,223.9 5.1,224.6 10.3,225.4 15.4,226.3 20.5,227.3 25.7,228.5 30.8,229.6 35.9,231.0 41.1,232.6 46.2,234.3 51.3,235.9 56.5,237.3 61.6,238.5 66.7,239.7 71.9,240.8 77.0,242.1 82.1,243.4 87.3,244.9 92.4,246.4 97.5,247.9 102.7,249.4 107.8,251.1 112.9,252.8 118.1,254.6 123.2,256.4 128.3,258.0 133.5,259.5 138.6,260.8 143.7,261.8 148.9,262.7 154.0,263.4 159.1,264.0 164.3,264.6 169.4,265.2 174.5,265.7 179.7,266.3 184.8,266.8 189.9,267.3 195.1,267.7 200.2,268.0 205.3,268.4 210.5,268.7 215.6,268.9 220.7,269.0 225.9,268.9 231.0,268.7 236.1,268.4 241.3,268.0 246.4,267.7 251.5,267.5 256.7,267.5 261.8,267.6 266.9,267.8 272.1,267.9 277.2,268.1 282.3,268.3 287.5,268.3 292.6,268.3 297.7,268.3 302.9,268.3 308.0,268.3 313.1,268.3 318.3,268.2 323.4,268.2 328.5,268.1 333.7,267.6 338.8,267.1 343.9,266.5 349.1,266.1 354.2,266.0 359.3,266.1 364.5,266.2 369.6,266.3 374.7,266.5 379.9,266.7 385.0,266.9 390.1,267.1 395.3,267.4 400.4,267.7 405.5,268.2 410.7,268.7 415.8,269.3 420.9,270.0 426.1,270.5 431.2,271.0 436.3,271.3 441.5,271.5 446.6,271.6 451.7,271.7 456.9,271.7 462.0,271.8 467.1,271.9 472.3,272.0 477.4,272.1 482.5,272.3 487.7,272.6 492.8,273.0 497.9,273.4 503.1,273.8 508.2,274.3 513.4,274.8 518.5,275.3 523.6,275.7 528.8,276.2 533.9,276.8 539.0,277.4 544.2,278.1 549.3,278.9 554.4,279.8 559.6,280.8 564.7,281.8 569.8,282.8 575.0,283.7 580.1,284.4 585.2,285.0 590.4,285.5 595.5,285.9 600.6,286.3 605.8,286.6 610.9,286.9 616.0,287.2 621.2,287.4 626.3,287.6 631.4,287.8 636.6,287.9 641.7,288.1 646.8,288.2 652.0,288.4 657.1,288.6 662.2,288.8 667.4,289.1 672.5,289.5 677.6,289.8 682.8,290.1 687.9,290.3 693.0,290.3 698.2,290.3 703.3,290.3 708.4,290.2 713.6,290.2 718.7,290.1 723.8,290.1 729.0,290.0 734.1,289.9 739.2,289.7 744.4,289.4 749.5,289.1 754.6,288.9 759.8,288.7 764.9,288.6 770.0,288.7 775.2,288.9 780.3,289.1 785.4,289.4 790.6,289.5 795.7,289.6 800.8,289.5 806.0,289.3 811.1,289.0 816.2,288.6 821.4,288.1 826.5,287.6 831.6,287.2 836.8,286.6 841.9,286.0 847.0,285.2 852.2,284.3 857.3,283.2 862.4,281.9 867.6,280.6 872.7,279.3 877.8,278.1 883.0,277.1 888.1,276.2 893.2,275.3 898.4,274.4 903.5,273.5 908.6,272.6 913.8,271.5 918.9,270.2 924.0,268.7 929.2,266.9 934.3,265.2 939.4,263.5 944.6,261.7 949.7,259.9 954.8,258.1 960.0,256.3 965.1,254.5 970.2,252.8 975.4,250.9 980.5,249.1 985.6,247.2 990.8,245.4 995.9,243.7 1001.0,242.1 1006.2,240.6 1011.3,239.4 1016.4,238.2 1021.6,236.7 1026.7,234.6 1031.8,232.9 1037.0,231.5 1042.1,230.2 1047.2,229.1 1052.4,227.8 1057.5,226.6 1062.6,225.4 1067.8,224.3 1072.9,223.5 1078.0,222.9 1083.2,222.3 1088.3,221.9 1093.4,221.5 1098.6,221.2 1103.7,220.8 1108.8,220.5 1114.0,220.1 1119.1,219.7 1124.2,219.3 1129.4,218.7 1134.5,217.9 1139.6,217.1 1144.8,216.3 1149.9,215.6 1155.0,215.1 1160.2,214.8 1165.3,214.5 1170.4,214.4 1175.6,214.4 1180.7,214.4 1185.8,214.3 1191.0,214.3 1196.1,214.3 1201.2,214.3 1206.4,214.2 1211.5,214.0 1216.6,213.7 1221.8,213.4 1226.9,213.1 1232.0,212.9 1237.2,212.7 1242.3,212.5 1247.4,212.4 1252.6,212.3 1257.7,212.3 1262.8,212.2 1268.0,212.1 1273.1,212.0 1278.2,211.9 1283.4,211.8 1288.5,211.5 1293.6,211.1 1298.8,210.5 1303.9,209.8 1309.0,209.1 1314.2,208.4 1319.3,207.8 1324.4,207.2 1329.6,206.5 1334.7,205.8 1339.8,205.3 1345.0,205.1 1350.1,205.0 1355.2,204.9 1360.4,204.8 1365.5,204.8 1370.6,204.7 1375.8,204.6 1380.9,204.5 1386.0,204.4 1391.2,204.3 1396.3,204.2 1401.4,204.1 1406.6,203.8 1411.7,203.5 1416.8,203.1 1422.0,202.7 1426.8,202.3" fill="none" stroke="#ff00ff" stroke-width="1" stroke-linejoin="round"/>
<rect x="0" y="212" width="1457" height="1" fill="#2b4a78" shape-rendering="crispEdges"/>
<g fill="#8a8a8a"><rect x="1458" y="20.40" width="5" height="1"/><rect x="1458" y="46.25" width="5" height="1"/><rect x="1458" y="72.11" width="5" height="1"/><rect x="1458" y="97.97" width="5" height="1"/><rect x="1458" y="123.82" width="5" height="1"/><rect x="1458" y="149.68" width="5" height="1"/><rect x="1458" y="175.53" width="5" height="1"/><rect x="1458" y="201.39" width="5" height="1"/><rect x="1458" y="227.24" width="5" height="1"/><rect x="1458" y="253.09" width="5" height="1"/><rect x="1458" y="278.95" width="5" height="1"/><rect x="1458" y="304.81" width="5" height="1"/><rect x="1458" y="330.66" width="5" height="1"/><rect x="1458" y="356.51" width="5" height="1"/><rect x="1458" y="382.37" width="5" height="1"/><rect x="1458" y="408.22" width="5" height="1"/><rect x="1458" y="434.08" width="5" height="1"/><rect x="1458" y="459.94" width="5" height="1"/><rect x="1458" y="485.79" width="5" height="1"/><rect x="1458" y="511.64" width="5" height="1"/><rect x="1458" y="537.50" width="5" height="1"/><rect x="1458" y="563.36" width="5" height="1"/><rect x="1458" y="589.21" width="5" height="1"/></g>
<g class="ax"><text x="1465" y="24.50">115.0000</text><text x="1465" y="50.36">114.5000</text><text x="1465" y="76.21">114.0000</text><text x="1465" y="102.06">113.5000</text><text x="1465" y="127.92">113.0000</text><text x="1465" y="153.78">112.5000</text><text x="1465" y="179.63">112.0000</text><text x="1465" y="205.49">111.5000</text><text x="1465" y="231.34">111.0000</text><text x="1465" y="257.19">110.5000</text><text x="1465" y="283.05">110.0000</text><text x="1465" y="308.91">109.5000</text><text x="1465" y="334.76">109.0000</text><text x="1465" y="360.62">108.5000</text><text x="1465" y="386.47">108.0000</text><text x="1465" y="412.32">107.5000</text><text x="1465" y="438.18">107.0000</text><text x="1465" y="464.04">106.5000</text><text x="1465" y="489.89">106.0000</text><text x="1465" y="515.75">105.5000</text><text x="1465" y="541.60">105.0000</text><text x="1465" y="567.46">104.5000</text><text x="1465" y="593.31">104.0000</text></g>
<g fill="#555" shape-rendering="crispEdges"><rect x="0" y="601" width="1" height="2"/><rect x="71" y="601" width="1" height="2"/><rect x="174" y="601" width="1" height="2"/><rect x="292" y="601" width="1" height="2"/><rect x="400" y="601" width="1" height="2"/><rect x="513" y="601" width="1" height="2"/><rect x="631" y="601" width="1" height="2"/><rect x="734" y="601" width="1" height="2"/><rect x="852" y="601" width="1" height="2"/><rect x="965" y="601" width="1" height="2"/><rect x="1072" y="601" width="1" height="2"/><rect x="1191" y="601" width="1" height="2"/><rect x="1293" y="601" width="1" height="2"/><rect x="1401" y="601" width="1" height="2"/></g>
<g class="ax"><text x="0" y="616.5">Mar</text><text x="71.5" y="616.5" text-anchor="middle">Apr</text><text x="174.5" y="616.5" text-anchor="middle">May</text><text x="292.5" y="616.5" text-anchor="middle">Jun</text><text x="400.5" y="616.5" text-anchor="middle">Jul</text><text x="513.5" y="616.5" text-anchor="middle">Aug</text><text x="631.5" y="616.5" text-anchor="middle">Sep</text><text x="734.5" y="616.5" text-anchor="middle">Oct</text><text x="852.5" y="616.5" text-anchor="middle">Nov</text><text x="965.5" y="616.5" text-anchor="middle">Dec</text><text x="1072.5" y="616.5" text-anchor="middle">'19</text><text x="1191.5" y="616.5" text-anchor="middle">Feb</text><text x="1293.5" y="616.5" text-anchor="middle">Mar</text><text x="1401.5" y="616.5" text-anchor="middle">Apr</text></g>
<path d="M1457.5 212.5 L1460.5 209 L1460.5 205.5 Q1460.5 204.5 1461.5 204.5 L1519.5 204.5 Q1520.5 204.5 1520.5 205.5 L1520.5 219.5 Q1520.5 220.5 1519.5 220.5 L1461.5 220.5 Q1460.5 220.5 1460.5 219.5 L1460.5 216 Z" fill="#2b4a78"/>
<text x="1465.5" y="216.6" font-size="11px" font-weight="bold" fill="#fff">111.30500</text>
<g shape-rendering="crispEdges"><rect x="5" y="5" width="76" height="21" fill="#555" fill-opacity="0.92"/><rect x="5" y="5" width="2" height="21" fill="#000"/></g><text class="lg" x="16" y="19.3">USD/JPY</text>
<g shape-rendering="crispEdges"><rect x="5" y="32" width="84" height="21" fill="#555" fill-opacity="0.92"/><rect x="5" y="32" width="2" height="21" fill="#ff9800"/></g><text class="lg" x="16" y="45.8">SMA (50,0)</text>
<g shape-rendering="crispEdges"><rect x="5" y="59" width="90" height="21" fill="#555" fill-opacity="0.92"/><rect x="5" y="59" width="2" height="21" fill="#0d47a1"/></g><text class="lg" x="16" y="72.8">SMA (100,0)</text>
<g shape-rendering="crispEdges"><rect x="5" y="86" width="90" height="21" fill="#555" fill-opacity="0.92"/><rect x="5" y="86" width="2" height="21" fill="#ff00ff"/></g><text class="lg" x="16" y="99.8">SMA (200,0)</text>
</svg>
</body></html>
